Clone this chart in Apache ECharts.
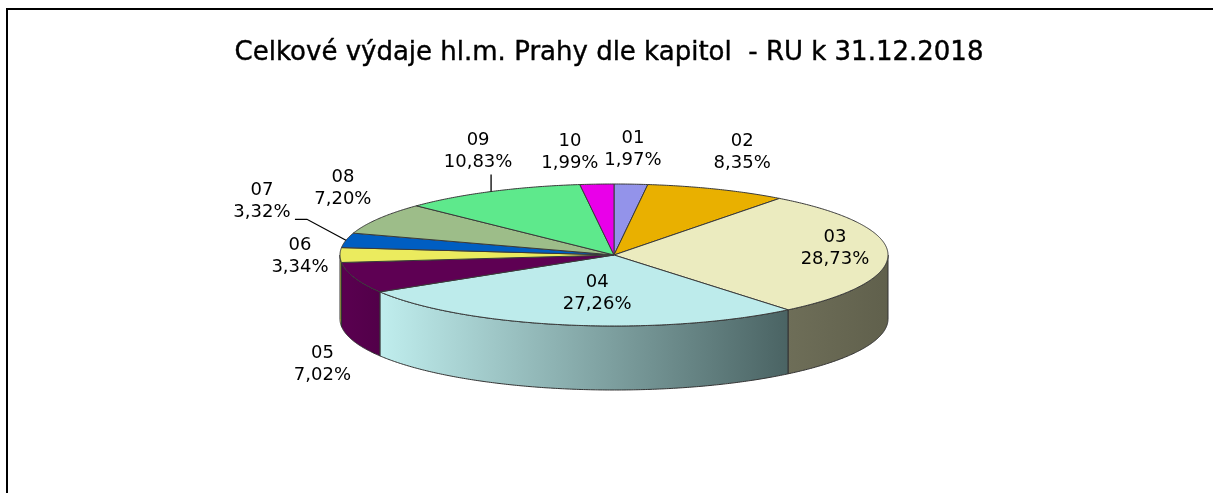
<!DOCTYPE html>
<html><head><meta charset="utf-8">
<script src="https://cdn.jsdelivr.net/npm/echarts@6/dist/echarts.min.js"></script>
<style>html,body{margin:0;padding:0;background:#fff}#c{width:1213px;height:493px}</style>
</head><body><div id="c"></div>
<script>
// ---- data ----
const titleText = 'Celkové výdaje hl.m. Prahy dle kapitol  - RU k 31.12.2018';
const categories = ['01','02','03','04','05','06','07','08','09','10'];
const values = [1.97, 8.35, 28.73, 27.26, 7.02, 3.34, 3.32, 7.20, 10.83, 1.99];

// ---- styles / layout ----
const topColors = ['#9393ea','#e9b000','#ebebbf','#bdebeb','#5e0053','#ebeb5e','#005ec2','#9dbd89','#5ee98c','#e900e9'];
const sideColors = [
  ['#7a7ac0','#6a6aa8'],['#b08400','#9a7400'],['#6e6e58','#60604c'],['#c0eeee','#4a6363'],
  ['#5a0050','#520049'],['#d8d850','#c8c848'],['#004a9a','#004080'],['#7c9a6c','#6c885e'],
  ['#48c070','#40a862'],['#c000c0','#a000a0']
];
const CX = 614, CY = 255, RX = 274, RY = 71, DEPTH = 64;
// label offsets relative to slice rim point at mid-angle
const labelOffsets = [[2,-35],[25,-37],[-53,-5],[29,-32],[-32,87],[-40,1],[-84,-39],[-36,-30],[-13,-40],[-27,-32]];
// leader line points (relative to label centre), final point = rim point
const leaders = {6: [[33,18],[45,18]], 8: [[13,23]]};

const total = values.reduce((a,b)=>a+b,0);
const starts = []; { let acc = 0; values.forEach(v => { starts.push(acc); acc += v; }); }
const fmt = v => v.toFixed(2).replace('.', ',') + '%';

function pt(t, dz){ return [CX + RX*Math.sin(t), CY - RY*Math.cos(t) + (dz||0)]; }
function arc(a0, a1, dz){
  const n = Math.max(2, Math.ceil((a1-a0)/(Math.PI/360)));
  const p = [];
  for (let k=0;k<=n;k++) p.push(pt(a0+(a1-a0)*k/n, dz));
  return p;
}
function angles(i, v){
  const t0 = starts[i]/total*2*Math.PI, t1 = (starts[i]+v)/total*2*Math.PI;
  return [t0, t1];
}

function renderSide(params, api){
  const i = params.dataIndex, v = api.value(1);
  const [t0, t1] = angles(i, v);
  const a0 = Math.max(t0, Math.PI/2), a1 = Math.min(t1, 1.5*Math.PI);
  if (a1 <= a0) return {type:'group', children:[]};
  const top = arc(a0, a1, 0), bot = arc(a0, a1, DEPTH).reverse();
  return {
    type:'polygon',
    shape:{points: top.concat(bot)},
    style:{
      fill: new echarts.graphic.LinearGradient(0,0,1,0,[{offset:0,color:sideColors[i][0]},{offset:1,color:sideColors[i][1]}]),
      stroke:'#333', lineWidth:1
    }
  };
}
function renderTop(params, api){
  const i = params.dataIndex, v = api.value(1);
  const [t0, t1] = angles(i, v);
  return {
    type:'polygon',
    shape:{points: [[CX,CY]].concat(arc(t0, t1, 0))},
    style:{fill: topColors[i], stroke:'#3a3a3a', lineWidth:1}
  };
}
function renderLabel(params, api){
  const i = params.dataIndex, v = api.value(1);
  const [t0, t1] = angles(i, v);
  const rim = pt((t0+t1)/2, 0);
  const lx = rim[0] + labelOffsets[i][0], ly = rim[1] + labelOffsets[i][1];
  const children = [{
    type:'text',
    style:{
      text: categories[i] + '\n' + fmt(v), x: lx, y: ly,
      textAlign:'center', textVerticalAlign:'middle', align:'center', verticalAlign:'middle',
      font:'18px "DejaVu Sans"', lineHeight:22, fill:'#000'
    }
  }];
  if (leaders[i]) {
    const pts = leaders[i].map(o => [lx+o[0], ly+o[1]]).concat([rim]);
    children.push({type:'polyline', shape:{points:pts}, style:{stroke:'#000', lineWidth:1.3, fill:null}});
  }
  return {type:'group', children};
}

const seriesData = values.map((v,i) => [i, v]);
const chart = echarts.init(document.getElementById('c'), null, {renderer:'canvas'});
chart.setOption({
  animation:false,
  backgroundColor:'#fff',
  graphic:[
    {type:'line', shape:{x1:6, y1:9, x2:1213, y2:9}, style:{stroke:'#000', lineWidth:2}},
    {type:'line', shape:{x1:7, y1:8, x2:7, y2:493}, style:{stroke:'#000', lineWidth:2}},
    {type:'text', x:609, y:53, style:{text:titleText, textAlign:'center', textVerticalAlign:'middle', align:'center', verticalAlign:'middle', font:'26px "DejaVu Sans"', fill:'#000', stroke:'#000', lineWidth:0.4}}
  ],
  series:[
    {type:'custom', coordinateSystem:'none', z:1, silent:true, data:seriesData, renderItem:renderSide},
    {type:'custom', coordinateSystem:'none', z:2, silent:true, data:seriesData, renderItem:renderTop},
    {type:'custom', coordinateSystem:'none', z:3, silent:true, data:seriesData, renderItem:renderLabel}
  ]
});
</script>
</body></html>
